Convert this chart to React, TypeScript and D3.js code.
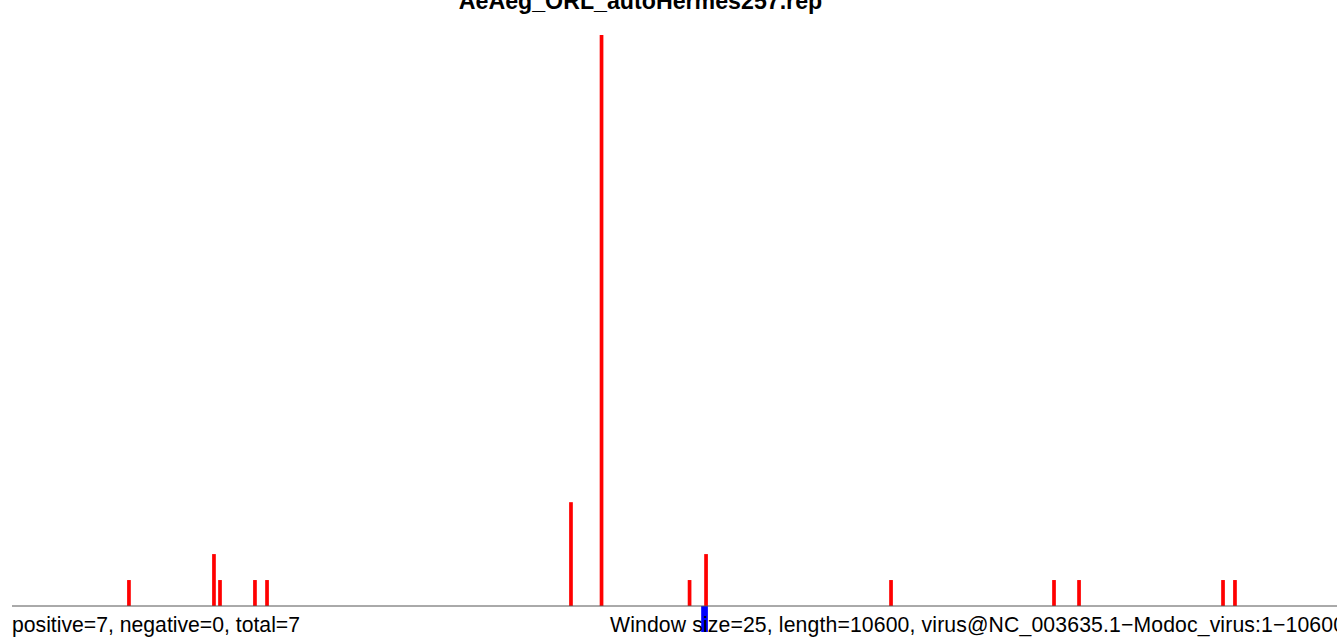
import React from "react";
import * as d3 from "d3";

const title = "AeAeg_ORL_autoHermes257.rep";
const leftNote = "positive=7, negative=0, total=7";
const rightNote = "Window size=25, length=10600, virus@NC_003635.1\u2212Modoc_virus:1\u221210600";

const genomeLength = 10600;
const positivePositions = [930, 1606, 1654, 1932, 2028, 4445, 4688, 5388, 5519, 6990, 8286, 8485, 9630, 9725];
const positiveCounts = [1, 2, 1, 1, 1, 4, 22, 1, 2, 1, 1, 1, 1, 1];
const negativePositions = [5507];
const negativeCounts = [1];

const W = 1337;
const H = 639;

export default function App() {
  const x = d3.scaleLinear().domain([0, genomeLength]).range([12, 1345]);
  const y = d3.scaleLinear().domain([0, 22]).range([606, 35]);
  const unit = y(0) - y(1);
  const font = "'Liberation Sans', Arial, Helvetica, sans-serif";
  return (
    <svg width={W} height={H} style={{ position: "absolute", left: 0, top: 0, background: "#fff" }}>
      <text x={640.5} y={9} textAnchor="middle" fontFamily={font} fontWeight="bold" fontSize={23.2} fill="#000">
        {title}
      </text>
      {positivePositions.map((p, i) => (
        <rect key={"p" + i} x={x(p) - 1.85} width={3.7} y={y(positiveCounts[i])} height={y(0) - y(positiveCounts[i])} fill="#ff0000" />
      ))}
      {negativePositions.map((p, i) => (
        <rect key={"n" + i} x={x(p) - 3.35} width={6.7} y={y(0)} height={unit * negativeCounts[i]} fill="#0000ff" />
      ))}
      <line x1={12} x2={1345} y1={y(0)} y2={y(0)} stroke="#555" strokeWidth={1} />
      <text x={12} y={632} fontFamily={font} fontSize={21.2} fill="#000">{leftNote}</text>
      <text x={610} y={632} fontFamily={font} fontSize={21.2} textLength={735} lengthAdjust="spacing" fill="#000">{rightNote}</text>
    </svg>
  );
}
